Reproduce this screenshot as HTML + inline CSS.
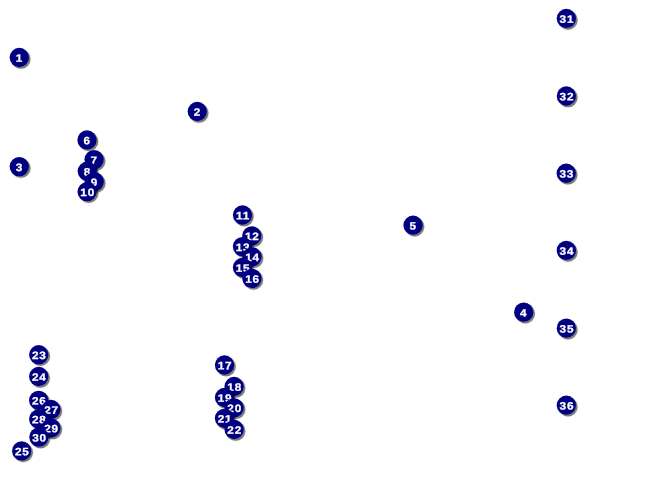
<!DOCTYPE html>
<html><head><meta charset="utf-8"><title>Map</title>
<style>
html,body{margin:0;padding:0;background:#fff;}
body{width:650px;height:482px;overflow:hidden;}
svg{display:block;will-change:transform;}
.s{fill:#000;opacity:.45}.s2{fill:#000;opacity:.12}
.c{fill:#000080;}
text{font-family:"Liberation Sans",Arial,sans-serif;font-weight:bold;font-size:10.7px;fill:#fff;text-anchor:middle;stroke:#fff;stroke-width:0.26px;letter-spacing:0.7px;}
</style></head><body>
<svg width="650" height="482" viewBox="0 0 650 482">
<g><circle class="s2" cx="20.88" cy="59.10" r="10.25"/><circle class="s" cx="20.88" cy="59.10" r="9.65"/><circle class="c" cx="19.28" cy="57.50" r="9.65"/><text transform="translate(19.33 61.80) rotate(.05) scale(1.1 1)">1</text></g>
<g><circle class="s2" cx="198.88" cy="113.10" r="10.25"/><circle class="s" cx="198.88" cy="113.10" r="9.65"/><circle class="c" cx="197.28" cy="111.50" r="9.65"/><text transform="translate(197.33 115.80) rotate(.05) scale(1.1 1)">2</text></g>
<g><circle class="s2" cx="20.88" cy="168.20" r="10.25"/><circle class="s" cx="20.88" cy="168.20" r="9.65"/><circle class="c" cx="19.28" cy="166.60" r="9.65"/><text transform="translate(19.33 170.90) rotate(.05) scale(1.1 1)">3</text></g>
<g><circle class="s2" cx="525.30" cy="313.75" r="10.25"/><circle class="s" cx="525.30" cy="313.75" r="9.65"/><circle class="c" cx="523.70" cy="312.15" r="9.65"/><text transform="translate(523.75 316.45) rotate(.05) scale(1.1 1)">4</text></g>
<g><circle class="s2" cx="414.65" cy="226.80" r="10.25"/><circle class="s" cx="414.65" cy="226.80" r="9.65"/><circle class="c" cx="413.05" cy="225.20" r="9.65"/><text transform="translate(413.10 229.50) rotate(.05) scale(1.1 1)">5</text></g>
<g><circle class="s2" cx="88.60" cy="141.55" r="10.25"/><circle class="s" cx="88.60" cy="141.55" r="9.65"/><circle class="c" cx="87.00" cy="139.95" r="9.65"/><text transform="translate(87.05 144.25) rotate(.05) scale(1.1 1)">6</text></g>
<g><circle class="s2" cx="95.70" cy="161.20" r="10.25"/><circle class="s" cx="95.70" cy="161.20" r="9.65"/><circle class="c" cx="94.10" cy="159.60" r="9.65"/><text transform="translate(94.15 163.90) rotate(.05) scale(1.1 1)">7</text></g>
<g><circle class="s2" cx="88.90" cy="172.80" r="10.25"/><circle class="s" cx="88.90" cy="172.80" r="9.65"/><circle class="c" cx="87.30" cy="171.20" r="9.65"/><text transform="translate(87.35 175.50) rotate(.05) scale(1.1 1)">8</text></g>
<g><circle class="s2" cx="95.85" cy="183.20" r="10.25"/><circle class="s" cx="95.85" cy="183.20" r="9.65"/><circle class="c" cx="94.25" cy="181.60" r="9.65"/><text transform="translate(94.30 185.90) rotate(.05) scale(1.1 1)">9</text></g>
<g><circle class="s2" cx="88.70" cy="193.30" r="10.25"/><circle class="s" cx="88.70" cy="193.30" r="9.65"/><circle class="c" cx="87.10" cy="191.70" r="9.65"/><text transform="translate(87.65 196.00) rotate(.05) scale(1.1 1)">10</text></g>
<g><circle class="s2" cx="244.10" cy="216.60" r="10.25"/><circle class="s" cx="244.10" cy="216.60" r="9.65"/><circle class="c" cx="242.50" cy="215.00" r="9.65"/><text transform="translate(243.05 219.30) rotate(.05) scale(1.1 1)">11</text></g>
<g><circle class="s2" cx="253.40" cy="237.40" r="10.25"/><circle class="s" cx="253.40" cy="237.40" r="9.65"/><circle class="c" cx="251.80" cy="235.80" r="9.65"/><text transform="translate(252.35 240.10) rotate(.05) scale(1.1 1)">12</text></g>
<g><circle class="s2" cx="244.10" cy="248.20" r="10.25"/><circle class="s" cx="244.10" cy="248.20" r="9.65"/><circle class="c" cx="242.50" cy="246.60" r="9.65"/><text transform="translate(243.05 250.90) rotate(.05) scale(1.1 1)">13</text></g>
<g><circle class="s2" cx="253.60" cy="258.40" r="10.25"/><circle class="s" cx="253.60" cy="258.40" r="9.65"/><circle class="c" cx="252.00" cy="256.80" r="9.65"/><text transform="translate(252.55 261.10) rotate(.05) scale(1.1 1)">14</text></g>
<g><circle class="s2" cx="244.10" cy="269.10" r="10.25"/><circle class="s" cx="244.10" cy="269.10" r="9.65"/><circle class="c" cx="242.50" cy="267.50" r="9.65"/><text transform="translate(243.05 271.80) rotate(.05) scale(1.1 1)">15</text></g>
<g><circle class="s2" cx="253.50" cy="280.00" r="10.25"/><circle class="s" cx="253.50" cy="280.00" r="9.65"/><circle class="c" cx="251.90" cy="278.40" r="9.65"/><text transform="translate(252.45 282.70) rotate(.05) scale(1.1 1)">16</text></g>
<g><circle class="s2" cx="226.10" cy="366.60" r="10.25"/><circle class="s" cx="226.10" cy="366.60" r="9.65"/><circle class="c" cx="224.50" cy="365.00" r="9.65"/><text transform="translate(225.05 369.30) rotate(.05) scale(1.1 1)">17</text></g>
<g><circle class="s2" cx="235.70" cy="388.10" r="10.25"/><circle class="s" cx="235.70" cy="388.10" r="9.65"/><circle class="c" cx="234.10" cy="386.50" r="9.65"/><text transform="translate(234.65 390.80) rotate(.05) scale(1.1 1)">18</text></g>
<g><circle class="s2" cx="226.10" cy="399.10" r="10.25"/><circle class="s" cx="226.10" cy="399.10" r="9.65"/><circle class="c" cx="224.50" cy="397.50" r="9.65"/><text transform="translate(225.05 401.80) rotate(.05) scale(1.1 1)">19</text></g>
<g><circle class="s2" cx="235.70" cy="409.40" r="10.25"/><circle class="s" cx="235.70" cy="409.40" r="9.65"/><circle class="c" cx="234.10" cy="407.80" r="9.65"/><text transform="translate(234.65 412.10) rotate(.05) scale(1.1 1)">20</text></g>
<g><circle class="s2" cx="226.10" cy="419.90" r="10.25"/><circle class="s" cx="226.10" cy="419.90" r="9.65"/><circle class="c" cx="224.50" cy="418.30" r="9.65"/><text transform="translate(225.05 422.60) rotate(.05) scale(1.1 1)">21</text></g>
<g><circle class="s2" cx="235.70" cy="431.10" r="10.25"/><circle class="s" cx="235.70" cy="431.10" r="9.65"/><circle class="c" cx="234.10" cy="429.50" r="9.65"/><text transform="translate(234.65 433.80) rotate(.05) scale(1.1 1)">22</text></g>
<g><circle class="s2" cx="40.35" cy="356.30" r="10.25"/><circle class="s" cx="40.35" cy="356.30" r="9.65"/><circle class="c" cx="38.75" cy="354.70" r="9.65"/><text transform="translate(39.30 359.00) rotate(.05) scale(1.1 1)">23</text></g>
<g><circle class="s2" cx="40.30" cy="378.10" r="10.25"/><circle class="s" cx="40.30" cy="378.10" r="9.65"/><circle class="c" cx="38.70" cy="376.50" r="9.65"/><text transform="translate(39.25 380.80) rotate(.05) scale(1.1 1)">24</text></g>
<g><circle class="s2" cx="23.30" cy="452.50" r="10.25"/><circle class="s" cx="23.30" cy="452.50" r="9.65"/><circle class="c" cx="21.70" cy="450.90" r="9.65"/><text transform="translate(22.25 455.20) rotate(.05) scale(1.1 1)">25</text></g>
<g><circle class="s2" cx="40.30" cy="401.90" r="10.25"/><circle class="s" cx="40.30" cy="401.90" r="9.65"/><circle class="c" cx="38.70" cy="400.30" r="9.65"/><text transform="translate(39.25 404.60) rotate(.05) scale(1.1 1)">26</text></g>
<g><circle class="s2" cx="52.50" cy="411.10" r="10.25"/><circle class="s" cx="52.50" cy="411.10" r="9.65"/><circle class="c" cx="50.90" cy="409.50" r="9.65"/><text transform="translate(51.45 413.80) rotate(.05) scale(1.1 1)">27</text></g>
<g><circle class="s2" cx="40.30" cy="420.60" r="10.25"/><circle class="s" cx="40.30" cy="420.60" r="9.65"/><circle class="c" cx="38.70" cy="419.00" r="9.65"/><text transform="translate(39.25 423.30) rotate(.05) scale(1.1 1)">28</text></g>
<g><circle class="s2" cx="52.50" cy="429.60" r="10.25"/><circle class="s" cx="52.50" cy="429.60" r="9.65"/><circle class="c" cx="50.90" cy="428.00" r="9.65"/><text transform="translate(51.45 432.30) rotate(.05) scale(1.1 1)">29</text></g>
<g><circle class="s2" cx="40.50" cy="438.70" r="10.25"/><circle class="s" cx="40.50" cy="438.70" r="9.65"/><circle class="c" cx="38.90" cy="437.10" r="9.65"/><text transform="translate(39.45 441.40) rotate(.05) scale(1.1 1)">30</text></g>
<g><circle class="s2" cx="567.95" cy="20.05" r="10.25"/><circle class="s" cx="567.95" cy="20.05" r="9.65"/><circle class="c" cx="566.35" cy="18.45" r="9.65"/><text transform="translate(566.90 22.75) rotate(.05) scale(1.1 1)">31</text></g>
<g><circle class="s2" cx="567.95" cy="97.60" r="10.25"/><circle class="s" cx="567.95" cy="97.60" r="9.65"/><circle class="c" cx="566.35" cy="96.00" r="9.65"/><text transform="translate(566.90 100.30) rotate(.05) scale(1.1 1)">32</text></g>
<g><circle class="s2" cx="567.85" cy="174.85" r="10.25"/><circle class="s" cx="567.85" cy="174.85" r="9.65"/><circle class="c" cx="566.25" cy="173.25" r="9.65"/><text transform="translate(566.80 177.55) rotate(.05) scale(1.1 1)">33</text></g>
<g><circle class="s2" cx="567.95" cy="252.00" r="10.25"/><circle class="s" cx="567.95" cy="252.00" r="9.65"/><circle class="c" cx="566.35" cy="250.40" r="9.65"/><text transform="translate(566.90 254.70) rotate(.05) scale(1.1 1)">34</text></g>
<g><circle class="s2" cx="567.95" cy="329.75" r="10.25"/><circle class="s" cx="567.95" cy="329.75" r="9.65"/><circle class="c" cx="566.35" cy="328.15" r="9.65"/><text transform="translate(566.90 332.45) rotate(.05) scale(1.1 1)">35</text></g>
<g><circle class="s2" cx="567.95" cy="406.80" r="10.25"/><circle class="s" cx="567.95" cy="406.80" r="9.65"/><circle class="c" cx="566.35" cy="405.20" r="9.65"/><text transform="translate(566.90 409.50) rotate(.05) scale(1.1 1)">36</text></g>
</svg>
</body></html>
